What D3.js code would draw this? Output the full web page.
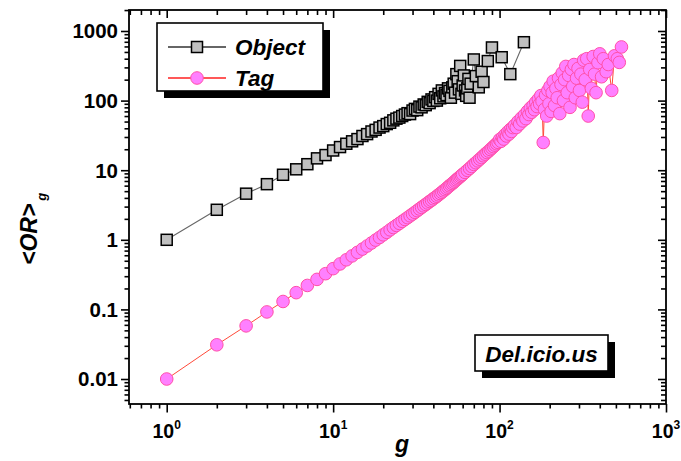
<!DOCTYPE html>
<html><head><meta charset="utf-8">
<script src="https://cdn.jsdelivr.net/npm/d3@7"></script>
<style>
html,body{margin:0;padding:0;background:#fff;}
svg{display:block;font-family:"Liberation Sans",Arial,sans-serif;}
</style></head>
<body>
<svg id="c" width="681" height="461"></svg>
<script>
// ---------- data ----------
const objectG = [1,2,3,4,5,6,7,8,9,10,11,12,13,14,15,16,17,18,19,20,21,22,23,24,25,26,27,28,29,30,31,32,33,34,35,36,37,38,39,40,41,42,43,44,45,46,47,48,49,50,51,52,53,54,55,56,57,58,59,60,61,62,63,64,65,66,67,70,72,75,78,80,85,90,103,116,140];
const objectOR = [1.0,2.7,4.6,6.3,8.6,10.3,12.2,14.8,16.5,19.2,21.5,24,26,28,31,33,36,38,41,43,46,48,52,55,57,60,63,66,64,72,76,73,82,80,88,86,96,92,104,99,112,100,125,108,140,115,128,120,150,138,110,155,175,130,240,190,145,315,125,165,230,140,117,150,205,110,175,390,225,155,260,185,370,580,420,240,690];

const tagG = [1,2,3,4,5,6,7,8,9,10,11,12,13,14,15,16,17,18,19,20,21,22,23,24,25,26,27,28,29,30,31,32,33,34,35,36,37,38,39,40,41,42,43,44,45,46,47,48,49,50,51,52,53,54,55,56,57,58,59,60,62,64,66,68,70,72,74,76,78,80,82,84,86,88,90,92,94,96,98,100,102,104,106,108,110,112,114,116,118,120,123,126,129,132,135,138,141,144,147,150,153,156,159,162,165,168,171,174,177,180,183,186,189,192,195,198,201,204,207,210,214,218,222,226,230,234,238,242,246,250,255,260,265,270,275,280,285,290,296,302,308,314,320,327,334,341,348,356,365,372,380,390,400,410,420,437,450,472,490,510,524,540];
const tagOR = [0.010,0.031,0.058,0.092,0.13,0.174,0.221,0.27,0.326,0.385,0.45,0.516,0.587,0.66,0.735,0.815,0.90,0.99,1.08,1.18,1.28,1.39,1.5,1.61,1.72,1.84,1.96,2.08,2.21,2.34,2.48,2.62,2.77,2.92,3.07,3.22,3.38,3.55,3.7,3.88,4.05,4.23,4.42,4.62,4.82,5.03,5.25,5.48,5.72,5.96,6.2,6.45,6.7,6.98,7.25,7.53,7.82,8.1,8.4,8.7,9.3,9.95,10.6,11.3,12.1,12.8,13.6,14.4,15.2,16.1,17.0,17.9,18.8,19.8,20.8,21.8,22.9,24.0,25.1,27.5,26.0,29.5,28.0,32.5,31.0,35.5,33.0,38.5,36.0,41.0,44,41,50,46,56,51,62,55,70,63,78,68,85,74,95,82,105,90,118,98,25,75,120,60,140,90,160,70,130,190,85,150,110,210,65,170,250,100,200,310,130,230,80,280,160,330,110,210,290,140,240,95,380,200,400,60,280,150,430,240,130,350,470,220,400,260,330,140,440,400,354,590];

const yTickValues = [0.01,0.1,1,10,100,1000];
const yTickLabels = ["0.01","0.1","1","10","100","1000"];
const xTickValues = [1,10,100,1000];
const xTickExps = ["0","1","2","3"];
const seriesNames = ["Object","Tag"];
const panelLabel = "Del.icio.us";
const xTitle = "g";
const yTitleMain = "<OR>";
const yTitleSub = "g";

// ---------- layout ----------
const L = 129, R = 666, T = 10, B = 404;
const svg = d3.select("#c");
const x = d3.scaleLog().domain([0.5935, 1000]).range([L, R]);
const y = d3.scaleLog().domain([0.004375, 2003]).range([B, T]);

const allX = x.ticks(), allY = y.ticks();
const isMajor = v => Math.abs(Math.log10(v) - Math.round(Math.log10(v))) < 1e-9;
const xMinor = allX.filter(v => !isMajor(v)), xMajor = allX.filter(isMajor);
const yMinor = allY.filter(v => !isMajor(v)), yMajor = allY.filter(isMajor);

function axisG(gen, tf){
  const g = svg.append("g").attr("transform", tf).call(gen);
  g.select(".domain").remove();
  g.selectAll("line").attr("stroke","#000").attr("stroke-width",1.6);
  g.selectAll("text").remove();
  return g;
}
axisG(d3.axisBottom(x).tickValues(xMinor).tickSize(4.5).tickFormat(""), `translate(0,${B})`);
axisG(d3.axisBottom(x).tickValues(xMajor).tickSize(8.5).tickFormat(""), `translate(0,${B})`);
axisG(d3.axisTop(x).tickValues(xMinor).tickSize(-5).tickFormat(""), `translate(0,${T})`);
axisG(d3.axisTop(x).tickValues(xMajor).tickSize(-8).tickFormat(""), `translate(0,${T})`);
axisG(d3.axisLeft(y).tickValues(yMinor).tickSize(4.5).tickFormat(""), `translate(${L},0)`);
axisG(d3.axisLeft(y).tickValues(yMajor).tickSize(8).tickFormat(""), `translate(${L},0)`);
axisG(d3.axisRight(y).tickValues(yMinor).tickSize(-5).tickFormat(""), `translate(${R},0)`);
axisG(d3.axisRight(y).tickValues(yMajor).tickSize(-8).tickFormat(""), `translate(${R},0)`);

svg.append("rect").attr("x",L).attr("y",T).attr("width",R-L).attr("height",B-T)
  .attr("fill","none").attr("stroke","#000").attr("stroke-width",1.8);

svg.append("g").selectAll("text").data(yTickValues).join("text")
  .attr("x", L-11).attr("y", d => y(d)).attr("dy","0.36em")
  .attr("text-anchor","end").attr("font-weight","bold").attr("font-size",20.5)
  .text((d,i)=>yTickLabels[i]);

const xl = svg.append("g").selectAll("text").data(xTickValues).join("text")
  .attr("x", d => x(d)).attr("y", 438)
  .attr("text-anchor","middle").attr("font-weight","bold").attr("font-size",19.5);
xl.append("tspan").text("10");
xl.append("tspan").attr("dy",-9).attr("font-size",12).text((d,i)=>xTickExps[i]);

svg.append("text").attr("x", 402).attr("y", 452).attr("text-anchor","middle")
  .attr("font-weight","bold").attr("font-style","italic").attr("font-size",23).text(xTitle);
const yt = svg.append("text").attr("transform","translate(37,265) rotate(-90)")
  .attr("font-weight","bold").attr("font-style","italic").attr("font-size",23);
yt.append("tspan").text(yTitleMain);
yt.append("tspan").attr("dx",3).attr("dy",9).attr("font-size",13).text(yTitleSub);

// ---------- series ----------
const plot = svg.append("g");
const objData = objectG.map((g,i)=>({g, v:objectOR[i]}));
const tagData = tagG.map((g,i)=>({g, v:tagOR[i]}));
const line = d3.line().x(d=>x(d.g)).y(d=>y(d.v));

plot.append("path").datum(objData).attr("d",line).attr("fill","none")
  .attr("stroke","#666").attr("stroke-width",1.1);
const sq = 11;
plot.append("g").selectAll("rect").data(objData).join("rect")
  .attr("x",d=>x(d.g)-sq/2).attr("y",d=>y(d.v)-sq/2).attr("width",sq).attr("height",sq)
  .attr("fill","#c0c0c0").attr("stroke","#000").attr("stroke-width",1.5);

plot.append("path").datum(tagData).attr("d",line).attr("fill","none")
  .attr("stroke","#ff4a3a").attr("stroke-width",1);
plot.append("g").selectAll("circle").data(tagData).join("circle")
  .attr("cx",d=>x(d.g)).attr("cy",d=>y(d.v)).attr("r",6.3)
  .attr("fill","#ff80ff").attr("stroke","#ff4fa8").attr("stroke-width",1);

// ---------- legend ----------
const lg = svg.append("g");
lg.append("rect").attr("x",164).attr("y",30).attr("width",166).attr("height",68).attr("fill","#000");
lg.append("rect").attr("x",157).attr("y",23).attr("width",166).attr("height",68)
  .attr("fill","#fff").attr("stroke","#000").attr("stroke-width",1.6);
const rows = [47, 78];
lg.append("line").attr("x1",168).attr("x2",226).attr("y1",rows[0]).attr("y2",rows[0]).attr("stroke","#333").attr("stroke-width",1.6);
lg.append("rect").attr("x",197-5.5).attr("y",rows[0]-5.5).attr("width",11).attr("height",11)
  .attr("fill","#c0c0c0").attr("stroke","#000").attr("stroke-width",1.5);
lg.append("line").attr("x1",168).attr("x2",226).attr("y1",rows[1]).attr("y2",rows[1]).attr("stroke","#ff2020").attr("stroke-width",1.6);
lg.append("circle").attr("cx",197).attr("cy",rows[1]).attr("r",6.3)
  .attr("fill","#ff80ff").attr("stroke","#ff4fa8").attr("stroke-width",1);
lg.selectAll("text.lt").data(seriesNames).join("text").attr("class","lt")
  .attr("x",235).attr("y",(d,i)=>rows[i]+8)
  .attr("font-weight","bold").attr("font-style","italic").attr("font-size",22.5).text(d=>d);

// panel label
const pl = svg.append("g");
pl.append("rect").attr("x",482).attr("y",342).attr("width",133).attr("height",36).attr("fill","#000");
pl.append("rect").attr("x",475).attr("y",335).attr("width",133).attr("height",36)
  .attr("fill","#fff").attr("stroke","#000").attr("stroke-width",1.6);
pl.append("text").attr("x",541.5).attr("y",362).attr("text-anchor","middle")
  .attr("font-weight","bold").attr("font-style","italic").attr("font-size",22.5).text(panelLabel);
</script>
</body></html>
